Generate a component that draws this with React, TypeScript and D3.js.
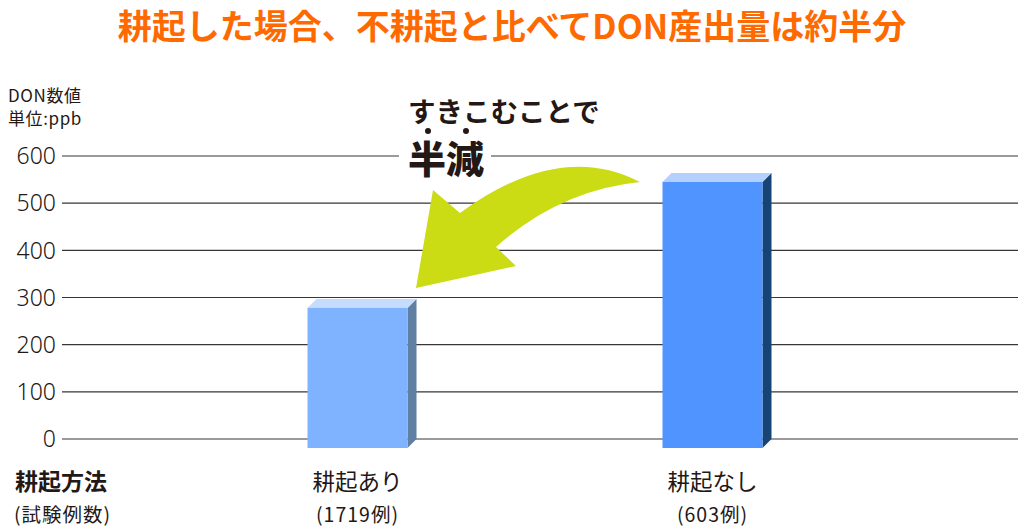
import { useRef, useEffect } from "react"
import * as d3 from "d3"

const categories = ["耕起あり", "耕起なし"]
const counts = ["(1719例)", "(603例)"]
const values = [297, 564]
const ticks = [0, 100, 200, 300, 400, 500, 600]

const W = 1024, H = 530
const JP = "'Noto Sans CJK JP', 'Noto Sans', sans-serif"
const DX = 9, DY = 9
const faces = [
  { front: "#80b3ff", top: "#c6dcff", side: "#5f7fa3" },
  { front: "#4f94ff", top: "#b3d0ff", side: "#164474" },
]

export default function App() {
  const ref = useRef<SVGSVGElement>(null)
  useEffect(() => {
    if (!ref.current) return
    const s = d3.select(ref.current)
    s.selectAll("*").remove()
    s.append("rect").attr("width", W).attr("height", H).attr("fill", "#fff")

    const y = d3.scaleLinear().domain([0, 600]).range([439, 156])
    const x = d3.scalePoint<string>().domain(categories).range([180, 890]).padding(0.5)
    const bw = 100

    // title
    s.append("text").attr("x", 512).attr("y", 38.5).attr("text-anchor", "middle")
      .attr("font-family", JP).attr("font-weight", 700).attr("font-size", 34)
      .attr("fill", "#ff6a00").text("耕起した場合、不耕起と比べてDON産出量は約半分")

    // unit
    s.append("text").attr("x", 8).attr("y", 102).attr("font-family", JP).attr("font-size", 17)
      .attr("letter-spacing", 0.6).attr("fill", "#231815").text("DON数値")
    s.append("text").attr("x", 8).attr("y", 125).attr("font-family", JP).attr("font-size", 17)
      .attr("letter-spacing", 0.6).attr("fill", "#231815").text("単位:ppb")

    // gridlines + ticks
    const g = s.append("g")
    ticks.forEach(t => {
      g.append("line").attr("x1", 62).attr("x2", 1018).attr("y1", y(t)).attr("y2", y(t))
        .attr("stroke", "#3a3536").attr("stroke-width", 1.2)
      g.append("text").attr("x", 56).attr("y", y(t)).attr("dy", "0.36em").attr("text-anchor", "end")
        .attr("font-family", "'Noto Sans', sans-serif").attr("font-weight", 300).attr("font-size", 23)
        .attr("fill", "#231815").text(t)
    })

    // bars (3D)
    values.forEach((v, i) => {
      const x0 = x(categories[i])! - bw / 2
      const yt = y(v) + DY, yb = y(0) + DY
      const c = faces[i]
      s.append("path").attr("fill", c.side)
        .attr("d", `M${x0 + bw},${yt}L${x0 + bw + DX},${yt - DY}L${x0 + bw + DX},${yb - DY}L${x0 + bw},${yb}Z`)
      s.append("path").attr("fill", c.top)
        .attr("d", `M${x0},${yt}L${x0 + DX},${yt - DY}L${x0 + bw + DX},${yt - DY}L${x0 + bw},${yt}Z`)
      s.append("rect").attr("x", x0).attr("y", yt).attr("width", bw).attr("height", yb - yt).attr("fill", c.front)
    })

    // category labels
    categories.forEach((c, i) => {
      s.append("text").attr("x", x(c)!).attr("y", 490).attr("text-anchor", "middle")
        .attr("font-family", JP).attr("font-size", 22.5).attr("fill", "#231815").text(c)
      s.append("text").attr("x", x(c)!).attr("y", 522).attr("text-anchor", "middle")
        .attr("font-family", JP).attr("font-size", 19.5).attr("letter-spacing", 1).attr("fill", "#231815").text(counts[i])
    })
    s.append("text").attr("x", 15).attr("y", 490).attr("font-family", JP).attr("font-weight", 700)
      .attr("font-size", 23).attr("fill", "#231815").text("耕起方法")
    s.append("text").attr("x", 14).attr("y", 522).attr("font-family", JP)
      .attr("font-size", 19.5).attr("letter-spacing", 1).attr("fill", "#231815").text("(試験例数)")

    // annotation
    s.append("rect").attr("x", 399).attr("y", 140).attr("width", 92).attr("height", 36).attr("fill", "#fff")
    s.append("text").attr("x", 408).attr("y", 122).attr("font-family", JP).attr("font-weight", 700)
      .attr("font-size", 27.5).attr("fill", "#231815").text("すきこむことで")
    s.append("text").attr("x", 408).attr("y", 173).attr("font-family", JP).attr("font-weight", 900)
      .attr("font-size", 38).attr("fill", "#231815").text("半減")
    ;[428, 466].forEach(cx => s.append("circle").attr("cx", cx).attr("cy", 131).attr("r", 3).attr("fill", "#231815"))
    s.append("path").attr("fill", "#cbdc14")
      .attr("d", "M640,182Q560,140 460,213L433,190L416,288L516,266L496,247Q560,190 640,182Z")
  }, [])
  return <svg ref={ref} width={W} height={H} style={{ position: "absolute", left: 0, top: 0, display: "block" }} />
}
